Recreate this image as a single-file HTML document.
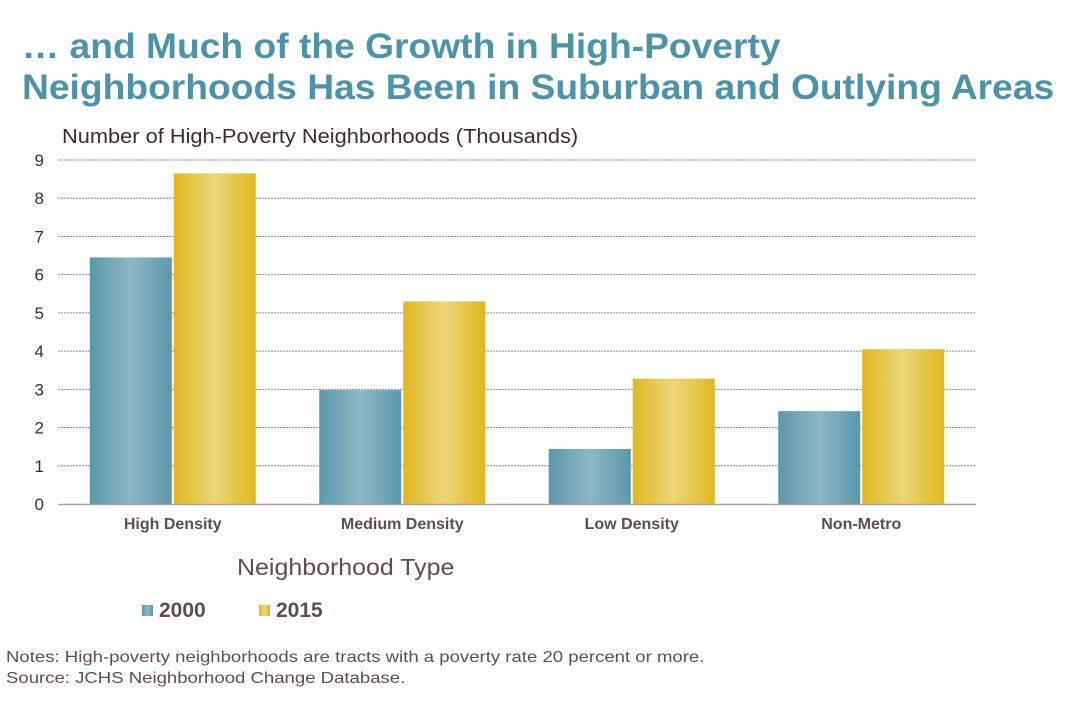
<!DOCTYPE html>
<html><head><meta charset="utf-8"><style>
body{margin:0;width:1087px;height:709px;background:#fff;font-family:"Liberation Sans",sans-serif;overflow:hidden;position:relative}
.t{position:absolute;white-space:nowrap;transform-origin:0 0}
</style></head><body>
<div class="t" style="left:22px;top:26px;font-size:35px;font-weight:bold;color:#4b93aa;line-height:41px;transform:scaleX(1.063)">… and Much of the Growth in High-Poverty<br>Neighborhoods Has Been in Suburban and Outlying Areas</div>
<div class="t" style="left:62px;top:126px;font-size:20px;color:#3d2a36;transform:scaleX(1.09)">Number of High-Poverty Neighborhoods (Thousands)</div>
<div class="t" style="left:237px;top:554px;font-size:23px;color:#5f4b57;transform:scaleX(1.085)">Neighborhood Type</div>
<div class="t" style="left:6px;top:647px;font-size:16px;color:#5f4b57;line-height:21px;transform:scaleX(1.16)">Notes: High-poverty neighborhoods are tracts with a poverty rate 20 percent or more.<br>Source: JCHS Neighborhood Change Database.</div>
<svg width="1087" height="709" style="position:absolute;left:0;top:0" id="svg">
<defs>
<linearGradient id="gb" x1="0" x2="1"><stop offset="0" stop-color="#5a97aa"/><stop offset="0.5" stop-color="#8db8c6"/><stop offset="1" stop-color="#5a97aa"/></linearGradient>
<linearGradient id="gy" x1="0" x2="1"><stop offset="0" stop-color="#e0b81e"/><stop offset="0.5" stop-color="#ecd678"/><stop offset="1" stop-color="#e0b81e"/></linearGradient>
</defs>
<g id="plot"></g>
<rect x="142" y="605" width="11" height="11" fill="url(#gb)"/>
<text x="159" y="617" font-size="21" font-weight="bold" fill="#5f4b57">2000</text>
<rect x="259" y="605" width="11" height="11" fill="url(#gy)"/>
<text x="276" y="617" font-size="21" font-weight="bold" fill="#5f4b57">2015</text>
</svg>
<script>
const categories=["High Density","Medium Density","Low Density","Non-Metro"];
const values2000=[6.45,2.98,1.44,2.43];
const values2015=[8.65,5.3,3.28,4.05];
const yTicks=[0,1,2,3,4,5,6,7,8,9];
const NS="http://www.w3.org/2000/svg";
const g=document.getElementById('plot');
const x0=58,x1=976,y0=504,y9=160;
const y=v=>y0-(v/9)*(y0-y9);
const band=(x1-x0)/categories.length;
const cx=i=>x0+band*(i+0.5);
function el(t,a){const e=document.createElementNS(NS,t);for(const k in a)e.setAttribute(k,a[k]);g.appendChild(e);return e;}
yTicks.forEach(v=>{
 if(v>0){const l=el('line',{x1:x0,x2:x1,y1:y(v),y2:y(v),stroke:'#9a8590','stroke-dasharray':'2,1','stroke-width':1});
 
 }
 const t=el('text',{x:44,y:y(v)+6,'font-size':17,fill:'#3d2a36','text-anchor':'end'});t.textContent=v;
 
 
});
const bw=82;
categories.forEach((c,i)=>{
 const r1=el('rect',{x:cx(i)-bw-1,y:y(values2000[i]),width:bw,height:y0-y(values2000[i]),fill:'url(#gb)'});
 
 
 const r2=el('rect',{x:cx(i)+1,y:y(values2015[i]),width:bw,height:y0-y(values2015[i]),fill:'url(#gy)'});
 
 
 const t=el('text',{x:cx(i),y:529,'font-size':16,'font-weight':'bold',fill:'#5f4b57','text-anchor':'middle'});t.textContent=c;
 
 
});
const ax=el('line',{x1:x0,x2:x1,y1:y0+0.5,y2:y0+0.5,stroke:'#b39aa6','stroke-width':1.5});


</script>
</body></html>
